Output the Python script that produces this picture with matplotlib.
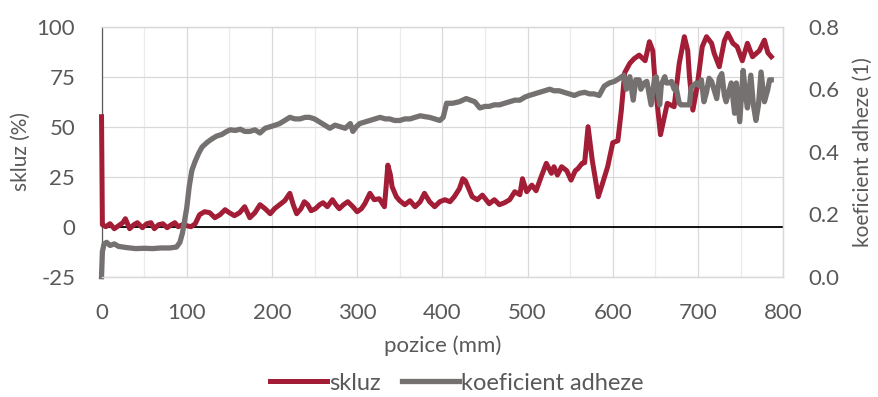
import numpy as np
import matplotlib.pyplot as plt
from matplotlib.ticker import MultipleLocator

plt.rcParams['font.family'] = ['Lato', 'DejaVu Sans']
plt.rcParams['axes.unicode_minus'] = False

# skluz (%) - primární osa
skluz_x = [0, 1, 5, 10, 15, 20, 25, 28, 33, 38, 42, 48, 53, 58, 62, 67, 72, 77, 82, 86,
           90, 95, 100, 105, 110, 115, 121, 127, 133, 139, 145, 150, 156, 162, 168, 174,
           180, 186, 192, 198, 203, 209, 215, 221, 225, 229, 234, 238, 242, 246, 251, 256,
           260, 265, 271, 275, 279, 284, 289, 295, 300, 305, 309, 315, 320, 326, 332, 334,
           336, 339, 341, 346, 350, 356, 362, 368, 374, 379, 385, 391, 397, 403, 409, 414,
           420, 424, 427, 430, 435, 441, 447, 455, 461, 467, 473, 479, 485, 491, 494, 499,
           505, 510, 516, 522, 528, 531, 535, 540, 546, 551, 556, 559, 564, 567, 571, 576,
           583, 588, 594, 600, 606, 610, 614, 620, 625, 631, 638, 643, 647, 650, 656, 664,
           672, 678, 684, 688, 690, 694, 699, 705, 710, 716, 719, 725, 731, 735, 741, 746,
           752, 758, 764, 772, 778, 782, 786]
skluz_y = [55, 1, 0, 1.5, -1, 0.5, 2, 4, -1, 1, 2, -0.5, 1.5, 2, -1, 1, 1.5, -0.5, 1, 2,
           0, 1, 0.5, 0, 1.5, 6, 7.5, 7, 4.5, 6, 8.5, 7, 5.5, 7, 10, 4.5,
           7, 11, 9, 6.5, 9, 11, 13, 16.7, 11, 6.5, 9, 12.5, 11, 8, 9, 11,
           12, 10, 13.5, 11, 9, 11, 12.5, 10, 7.5, 9, 11.5, 16.7, 13.5, 14, 10, 20,
           30.8, 26, 20, 15, 13, 11, 13, 10, 12.5, 16.7, 12.5, 10, 12.5, 13.5, 12.5, 15,
           19, 24, 23, 20, 15, 13.5, 15.8, 11.5, 13.5, 11, 12, 13.5, 17.5, 16, 24, 17.5,
           20.8, 18, 25, 31.7, 26.7, 30, 25.8, 30, 28, 23.3, 28, 29, 31.7, 32, 50, 33,
           15, 21.7, 30, 42, 43, 58, 77, 81.7, 84, 85.8, 83, 92.5, 88, 70, 46, 61.7,
           60, 81.7, 95, 88, 75, 58.3, 70, 90, 95, 91.7, 86.7, 80, 93, 96.7, 91.7, 90,
           83, 91.7, 85, 88, 93.3, 87, 85]

# koeficient adheze (1) - sekundární osa
adh_x = [0, 1, 3, 6, 10, 15, 20, 30, 40, 50, 60, 70, 80, 88, 92, 95, 100, 103, 106, 110,
         114, 118, 124, 129, 135, 141, 147, 151, 157, 163, 168, 174, 180, 186, 192, 198,
         204, 209, 215, 221, 227, 233, 239, 244, 250, 256, 262, 268, 274, 280, 286, 292,
         295, 299, 303, 309, 315, 321, 327, 333, 338, 344, 350, 356, 362, 368, 374, 380,
         385, 391, 397, 401, 405, 412, 420, 428, 433, 438, 444, 450, 455, 461, 467, 473,
         479, 485, 491, 497, 502, 508, 514, 520, 526, 531, 537, 543, 549, 555, 561, 567,
         573, 578, 584, 590, 596, 602, 608, 613, 616, 620, 624, 627, 631, 633, 637, 640,
         645, 649, 651, 655, 657, 661, 663, 666, 669, 672, 674, 678, 680, 686, 690, 692,
         698, 702, 704, 707, 710, 713, 716, 722, 725, 728, 731, 733, 737, 739, 743, 745,
         749, 753, 756, 758, 762, 765, 768, 771, 774, 778, 782, 784, 786]
adh_y = [0.0, 0.08, 0.105, 0.11, 0.1, 0.105, 0.097, 0.093, 0.09, 0.091, 0.09, 0.092, 0.092,
         0.095, 0.11, 0.14, 0.22, 0.29, 0.34, 0.37,
         0.395, 0.415, 0.43, 0.44, 0.45, 0.455, 0.465, 0.47, 0.468, 0.472, 0.465, 0.465,
         0.47, 0.46, 0.475, 0.48,
         0.485, 0.49, 0.5, 0.51, 0.505, 0.505, 0.51, 0.51, 0.505, 0.495, 0.485, 0.475,
         0.485, 0.48, 0.475, 0.49,
         0.465, 0.48, 0.49, 0.495, 0.5, 0.505, 0.51, 0.505, 0.505, 0.5, 0.5, 0.505,
         0.505, 0.51, 0.515, 0.512,
         0.51, 0.505, 0.5, 0.51, 0.555, 0.555, 0.56, 0.57, 0.565, 0.56, 0.54, 0.545,
         0.545, 0.55, 0.55, 0.555,
         0.56, 0.565, 0.565, 0.575, 0.58, 0.585, 0.59, 0.595, 0.6, 0.595, 0.595, 0.59,
         0.585, 0.58, 0.587, 0.59,
         0.585, 0.585, 0.58, 0.61, 0.62, 0.625, 0.635, 0.645, 0.6, 0.64, 0.565, 0.63,
         0.63, 0.6, 0.62, 0.625,
         0.55, 0.635, 0.64, 0.55, 0.615, 0.64, 0.62, 0.62, 0.625, 0.6, 0.61, 0.555,
         0.55, 0.55, 0.55, 0.605,
         0.62, 0.61, 0.63, 0.56, 0.59, 0.635, 0.625, 0.57, 0.635, 0.65, 0.58, 0.56,
         0.6, 0.62, 0.523, 0.62,
         0.496, 0.66, 0.58, 0.54, 0.645, 0.55, 0.5, 0.55, 0.655, 0.56, 0.6, 0.63, 0.63]

red = '#A21D35'
grey = '#767171'
txt = '#595959'

fig = plt.figure(figsize=(8.79, 3.97), dpi=100)
ax = fig.add_axes([0.1155, 0.303, 0.7755, 0.6297])
ax2 = ax.twinx()

# mřížka
ax.set_xlim(0, 800)
ax.set_ylim(-25, 100)
ax.xaxis.set_major_locator(MultipleLocator(100))
ax.xaxis.set_minor_locator(MultipleLocator(50))
ax.yaxis.set_major_locator(MultipleLocator(25))
ax.grid(True, which='major', color='#D9D9D9', lw=0.9)
ax.grid(True, which='minor', axis='x', color='#EBEBEB', lw=0.9)
ax.set_axisbelow(True)
ax.axhline(0, color='black', lw=1.3, zorder=1)

ax.plot(skluz_x, skluz_y, color=red, lw=3.6, solid_joinstyle='round', label='skluz',
        zorder=3, clip_on=False)

ax2.set_ylim(0.0, 0.8)
ax2.yaxis.set_major_locator(MultipleLocator(0.2))
ax2.yaxis.set_major_formatter('{x:.1f}')
ax2.plot(adh_x, adh_y, color=grey, lw=3.8, solid_joinstyle='round', label='koeficient adheze',
         clip_on=False)

for a in (ax, ax2):
    for side in ('top', 'right', 'bottom'):
        a.spines[side].set_color('#D9D9D9')
        a.spines[side].set_linewidth(0.9)
    a.spines['left'].set_color('#595959')
    a.spines['left'].set_linewidth(0.9)
    a.tick_params(which='both', length=0, labelsize=16, labelcolor=txt)
ax2.spines['left'].set_visible(False)

ax.tick_params(axis='x', pad=19)
ax.tick_params(axis='y', pad=19)
ax2.tick_params(axis='y', pad=18)
ax.set_xlabel('pozice (mm)', fontsize=16, color=txt, labelpad=9)
ax.set_ylabel('skluz (%)', fontsize=15, color=txt, labelpad=4)
ax2.set_ylabel('koeficient adheze (1)', fontsize=15, color=txt, labelpad=10)

h1, l1 = ax.get_legend_handles_labels()
h2, l2 = ax2.get_legend_handles_labels()
fig.legend(h1 + h2, l1 + l2, loc='lower center', bbox_to_anchor=(0.52, -0.045), ncol=2,
           frameon=False, fontsize=17, labelcolor=txt, handlelength=2.4,
           handletextpad=0.1, columnspacing=0.9)

fig.savefig('out.png', dpi=100)
